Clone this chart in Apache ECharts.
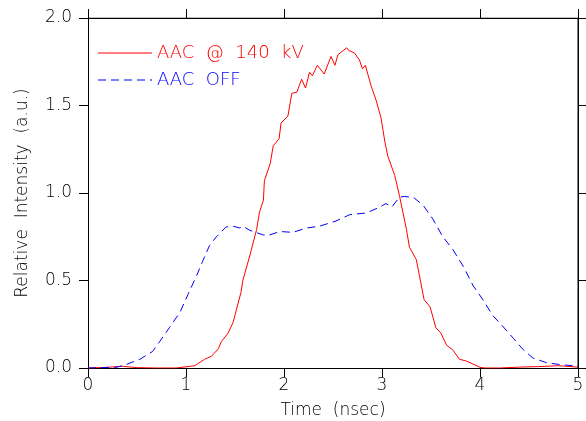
<!DOCTYPE html>
<html><head><meta charset="utf-8">
<script src="https://cdn.jsdelivr.net/npm/echarts@6/dist/echarts.min.js"></script>
<style>html,body{margin:0;padding:0;background:#fff}#c{width:586px;height:421px}</style>
</head><body><div id="c"></div>
<script>
const xTicks = [0,1,2,3,4,5];
const yTicks = ['0.0','0.5','1.0','1.5','2.0'];
const redName = 'AAC  @  140  kV';
const blueName = 'AAC  OFF';
const xTitle = 'Time  (nsec)';
const yTitle = 'Relative  Intensity  (a.u.)';
const redT = [0,0.2,0.35,0.5,0.7,0.9,1.09,1.19,1.26,1.33,1.36,1.43,1.48,1.56,1.58,1.65,1.72,1.75,1.79,1.80,1.86,1.89,1.95,1.97,2.04,2.08,2.13,2.18,2.22,2.26,2.29,2.34,2.41,2.48,2.52,2.55,2.64,2.66,2.72,2.77,2.80,2.83,2.89,2.94,2.99,3.03,3.06,3.13,3.18,3.25,3.28,3.35,3.43,3.49,3.55,3.60,3.66,3.72,3.79,3.86,4.0,4.05,4.2,4.4,4.6,4.8,5.0];
const redV = [0,0.004,0.01,0.002,0,0,0.013,0.05,0.067,0.11,0.15,0.2,0.26,0.43,0.5,0.64,0.79,0.89,0.96,1.07,1.17,1.27,1.31,1.40,1.44,1.57,1.575,1.65,1.60,1.69,1.67,1.73,1.68,1.78,1.73,1.79,1.83,1.815,1.80,1.76,1.71,1.73,1.61,1.53,1.43,1.29,1.21,1.10,0.98,0.79,0.69,0.62,0.39,0.35,0.23,0.20,0.13,0.105,0.05,0.04,0.004,0,0,0.005,0.008,0.013,0.005];
const blueT = [0,0.3,0.39,0.53,0.66,0.73,0.83,0.94,1.02,1.11,1.17,1.24,1.31,1.41,1.48,1.55,1.58,1.65,1.79,1.85,1.96,2.09,2.23,2.36,2.53,2.67,2.84,2.98,3.04,3.10,3.18,3.23,3.32,3.42,3.52,3.62,3.72,3.83,3.93,4.03,4.13,4.23,4.34,4.44,4.54,4.68,4.81,5.0];
const blueV = [0,0.005,0.02,0.05,0.095,0.15,0.23,0.32,0.42,0.53,0.61,0.70,0.75,0.806,0.81,0.80,0.81,0.787,0.76,0.76,0.78,0.775,0.80,0.81,0.84,0.876,0.886,0.92,0.94,0.92,0.977,0.98,0.975,0.93,0.85,0.75,0.68,0.58,0.47,0.39,0.30,0.24,0.17,0.105,0.057,0.03,0.02,0.01];

const FONT = 'DejaVu Sans';
const txt = {color:'#000', fontFamily:FONT, fontSize:17, fontWeight:'lighter'};
const axLine = () => ({show:true, onZero:false, lineStyle:{color:'#000', width:1}});
const tick = () => ({show:true, inside:false, length:9, lineStyle:{color:'#000', width:1}});
const chart = echarts.init(document.getElementById('c'));
chart.setOption({
  animation:false,
  grid:{left:88, right:8, top:18, bottom:53, outerBoundsMode:'none', containLabel:false},
  graphic:{elements:[
    {type:'line', shape:{x1:98,y1:53,x2:152,y2:53}, style:{stroke:'#ff0000', lineWidth:1}},
    {type:'text', x:157, y:53, style:{text:redName, fill:'#ff0000', font:'lighter 18px "DejaVu Sans"', textVerticalAlign:'middle'}},
    {type:'line', shape:{x1:98,y1:80,x2:152,y2:80}, style:{stroke:'#0000ff', lineWidth:1, lineDash:[8,5]}},
    {type:'text', x:157, y:80, style:{text:blueName, fill:'#0000ff', font:'lighter 18px "DejaVu Sans"', textVerticalAlign:'middle'}}
  ]},
  xAxis:[
    {type:'value', min:0, max:5, interval:1, position:'bottom', axisLine:axLine(), axisTick:tick(), splitLine:{show:false},
     axisLabel:Object.assign({}, txt, {margin:9, formatter:v=>String(xTicks[Math.round(v)])}),
     name:xTitle, nameLocation:'middle', nameGap:34, nameTextStyle:txt},
    {type:'value', min:0, max:5, interval:1, position:'top', axisLine:axLine(), axisTick:tick(), axisLabel:{show:false}, splitLine:{show:false}}
  ],
  yAxis:[
    {type:'value', min:0, max:2, interval:0.5, position:'left', axisLine:axLine(), axisTick:tick(), splitLine:{show:false},
     axisLabel:Object.assign({}, txt, {margin:16, formatter:v=>yTicks[Math.round(v*2)]}),
     name:yTitle, nameLocation:'middle', nameGap:57, nameTextStyle:txt},
    {type:'value', min:0, max:2, interval:0.5, position:'right', axisLine:axLine(), axisTick:tick(), axisLabel:{show:false}, splitLine:{show:false}}
  ],
  series:[
    {name:redName, type:'line', symbol:'none', data:redT.map((t,i)=>[t,redV[i]]), lineStyle:{color:'#ff0000', width:1}, itemStyle:{color:'#ff0000'}},
    {name:blueName, type:'line', symbol:'none', data:blueT.map((t,i)=>[t,blueV[i]]), lineStyle:{color:'#0000ff', width:1, type:[8,5]}, itemStyle:{color:'#0000ff'}},
    // top and right frame edges, drawn through the axes' own scales
    {name:'frameTop', type:'line', symbol:'none', silent:true, z:10, data:[[0,2],[5,2]], lineStyle:{color:'#000', width:1}, tooltip:{show:false}},
    {name:'frameRight', type:'line', symbol:'none', silent:true, z:10, data:[[5,0],[5,2]], lineStyle:{color:'#000', width:1}, tooltip:{show:false}}
  ]
});
</script></body></html>
